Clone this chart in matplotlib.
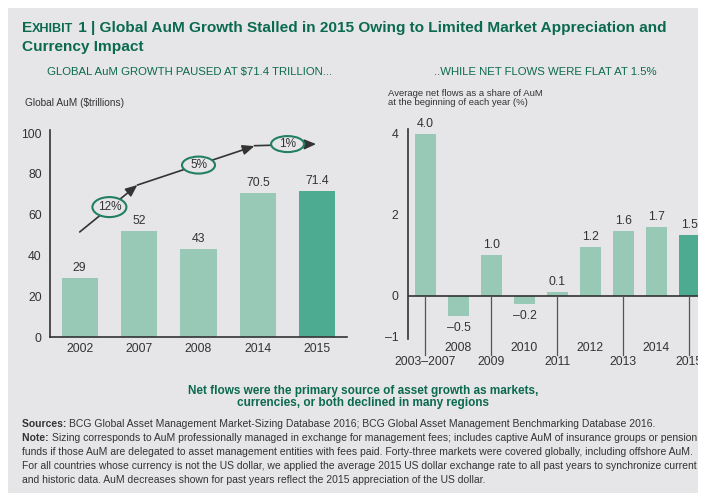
import matplotlib
matplotlib.use('Agg')
import matplotlib.pyplot as plt
from matplotlib.patches import Rectangle, Ellipse
from matplotlib import transforms

W, H = 709, 504

# Дані: глобальні активи під управлінням (трлн $)
aum_years = ['2002', '2007', '2008', '2014', '2015']
aum_values = [29, 52, 43, 70.5, 71.4]
aum_labels = ['29', '52', '43', '70.5', '71.4']
aum_ticks = [0, 20, 40, 60, 80, 100]

# Дані: чисті потоки як частка AuM (%)
flow_periods = ['2003–2007', '2008', '2009', '2010', '2011',
                '2012', '2013', '2014', '2015']
flow_values = [4.0, -0.5, 1.0, -0.2, 0.1, 1.2, 1.6, 1.7, 1.5]
flow_labels = ['4.0', '–0.5', '1.0', '–0.2', '0.1', '1.2', '1.6', '1.7', '1.5']
flow_ticks = [-1, 0, 2, 4]
flow_tick_labels = ['–1', '0', '2', '4']

# Підписи темпів зростання
growth_labels = ['12%', '5%', '1%']

BG = '#e6e6e8'
LIGHT = '#98c8b6'
DARK = '#4dab91'
GREEN = '#0b6a4e'
TXT = '#333333'
FONT = ['Liberation Sans Narrow', 'Liberation Sans', 'DejaVu Sans']

plt.rcParams['font.family'] = FONT


def fx(px):
    return px / W


def fy(py):
    return 1 - py / H


def rich_text(fig, x, y, parts, **kw):
    """Текст з кількох частин різного стилю в одному рядку"""
    renderer = fig.canvas.get_renderer()
    t = fig.transFigure
    for s, props in parts:
        opts = dict(kw)
        opts.update(props)
        txt = fig.text(x, y, s, transform=t, va='baseline', **opts)
        txt.draw(renderer)
        ex = txt.get_window_extent(renderer)
        t = transforms.offset_copy(txt.get_transform(), x=ex.width, units='dots')


def main():
    fig = plt.figure(figsize=(W / 100, H / 100), dpi=100)
    fig.patch.set_facecolor('white')
    fig.add_artist(Rectangle((fx(8), fy(493)), fx(698) - fx(8), fy(8) - fy(493),
                             transform=fig.transFigure, facecolor=BG,
                             edgecolor='none', zorder=-10))

    # Заголовок
    big = dict(fontsize=11.1, fontweight='bold', color=GREEN)
    small = dict(fontsize=9.1, fontweight='bold', color=GREEN)
    rich_text(fig, fx(22), fy(32), [
        ('E', big), ('XHIBIT', small),
        (' 1 | Global AuM Growth Stalled in 2015 Owing to Limited Market Appreciation and', big)])
    fig.text(fx(22), fy(51), 'Currency Impact', va='baseline', **big)

    fig.text(fx(190), fy(72), r'GLOBAL AuM GROWTH PAUSED AT \$71.4 TRILLION...',
             ha='center', va='center', fontsize=8.2, color=GREEN)
    fig.text(fx(545), fy(72), '..WHILE NET FLOWS WERE FLAT AT 1.5%',
             ha='center', va='center', fontsize=8.2, color=GREEN)

    fig.text(fx(25), fy(103), r'Global AuM (\$trillions)', va='center',
             fontsize=7.3, color=TXT)
    fig.text(fx(388), fy(98), 'Average net flows as a share of AuM\nat the beginning of each year (%)',
             va='center', fontsize=6.8, color=TXT, linespacing=0.95)

    # Лівий графік
    ax1 = fig.add_axes([fx(50), fy(337), fx(347) - fx(50), (337 - 130) / H])
    ax1.set_facecolor('none')
    x1 = list(range(len(aum_years)))
    colors1 = [LIGHT] * (len(aum_years) - 1) + [DARK]
    ax1.bar(x1, aum_values, width=0.61, color=colors1)
    for xi, v, lab in zip(x1, aum_values, aum_labels):
        ax1.annotate(lab, (xi, v), xytext=(0, 3), textcoords='offset points',
                     ha='center', va='bottom', fontsize=8.8, color=TXT)
    ax1.set_xlim(-0.5, 4.5)
    ax1.set_ylim(0, 101.5)
    ax1.set_xticks(x1, aum_years)
    ax1.set_yticks(aum_ticks, [str(t) for t in aum_ticks])
    ax1.tick_params(length=0, labelsize=8.8, labelcolor=TXT)
    ax1.tick_params(axis='x', pad=4)
    ax1.tick_params(axis='y', pad=6)
    for s in ['top', 'right']:
        ax1.spines[s].set_visible(False)
    for s in ['left', 'bottom']:
        ax1.spines[s].set_color(TXT)
        ax1.spines[s].set_linewidth(1.2)

    # Стрілки темпів зростання
    apr = dict(arrowstyle='-|>,head_length=0.7,head_width=0.3', color=TXT, lw=1.2,
               shrinkA=0, shrinkB=0)
    ax1.annotate('', xy=(0.97, 74.5), xytext=(0.0, 51.5), arrowprops=apr)
    ax1.annotate('', xy=(2.94, 93.6), xytext=(0.97, 74.5), arrowprops=apr)
    ax1.annotate('', xy=(3.98, 94.6), xytext=(2.94, 93.8), arrowprops=apr)
    ell_pos = [(0.5, 63.7), (2.0, 84.3), (3.5, 94.6)]
    ell_w = [34, 33, 33]
    ell_h = [20, 17, 16]
    for (ex, ey), w, h, lab in zip(ell_pos, ell_w, ell_h, growth_labels):
        ax1.add_patch(Ellipse((ex, ey), w / 59.4, h / 2.04, facecolor=BG,
                              edgecolor='#237f62', lw=1.5, zorder=5))
        ax1.text(ex, ey, lab, ha='center', va='center', fontsize=8.5,
                 color=TXT, zorder=6)

    # Правий графік
    ax2 = fig.add_axes([fx(408), fy(338.5), fx(698) - fx(408), 209.4 / H])
    ax2.set_facecolor('none')
    x2 = list(range(len(flow_periods)))
    colors2 = [LIGHT] * (len(flow_periods) - 1) + [DARK]
    ax2.bar(x2, flow_values, width=0.64, color=colors2)
    for xi, v, lab in zip(x2, flow_values, flow_labels):
        if v >= 0:
            ax2.annotate(lab, (xi, v), xytext=(0, 3), textcoords='offset points',
                         ha='center', va='bottom', fontsize=8.8, color=TXT)
        else:
            ax2.annotate(lab, (xi, v), xytext=(0, -4), textcoords='offset points',
                         ha='center', va='top', fontsize=8.8, color=TXT)
    ax2.axhline(0, color=TXT, lw=1.2)
    for xi, lab in zip(x2, flow_periods):
        if xi % 2 == 0:
            ax2.plot([xi, xi], [0, -1.46], color='#555555', lw=0.9, clip_on=False)
            ax2.text(xi, -1.63, lab, ha='center', va='center', fontsize=8.8,
                     color=TXT, clip_on=False)
        else:
            ax2.text(xi, -1.28, lab, ha='center', va='center', fontsize=8.8,
                     color=TXT, clip_on=False)
    ax2.set_xlim(-0.53, 8.26)
    ax2.set_ylim(-1.05, 4.12)
    ax2.set_xticks([])
    ax2.set_yticks(flow_ticks, flow_tick_labels)
    ax2.tick_params(length=0, labelsize=8.8, labelcolor=TXT, pad=7)
    for s in ['top', 'right', 'bottom']:
        ax2.spines[s].set_visible(False)
    ax2.spines['left'].set_color(TXT)
    ax2.spines['left'].set_linewidth(1.2)

    # Біла смуга праворуч обрізає те, що виходить за межі панелі
    fig.add_artist(Rectangle((fx(698), 0), 1 - fx(698), 1, transform=fig.transFigure,
                             facecolor='white', edgecolor='none', zorder=50))

    # Висновок
    fig.text(fx(363), fy(397), 'Net flows were the primary source of asset growth as markets,\n'
             'currencies, or both declined in many regions', ha='center', va='center',
             fontsize=8.5, fontweight='bold', color=GREEN, linespacing=0.95)

    # Джерела та примітки
    note = dict(fontsize=7.45, color=TXT)
    bold_note = dict(fontsize=7.45, color=TXT, fontweight='bold')
    rich_text(fig, fx(22), fy(427), [
        ('Sources: ', bold_note),
        ('BCG Global Asset Management Market-Sizing Database 2016; '
         'BCG Global Asset Management Benchmarking Database 2016.', note)])
    rich_text(fig, fx(22), fy(441), [
        ('Note: ', bold_note),
        ('Sizing corresponds to AuM professionally managed in exchange for management fees; '
         'includes captive AuM of insurance groups or pension', note)])
    fig.text(fx(22), fy(455), 'funds if those AuM are delegated to asset management entities '
             'with fees paid. Forty-three markets were covered globally, including offshore AuM.',
             va='baseline', **note)
    fig.text(fx(22), fy(469), 'For all countries whose currency is not the US dollar, we applied '
             'the average 2015 US dollar exchange rate to all past years to synchronize current',
             va='baseline', **note)
    fig.text(fx(22), fy(483), 'and historic data. AuM decreases shown for past years reflect '
             'the 2015 appreciation of the US dollar.', va='baseline', **note)

    fig.savefig('out.png', dpi=100, facecolor='white')


if __name__ == '__main__':
    main()
